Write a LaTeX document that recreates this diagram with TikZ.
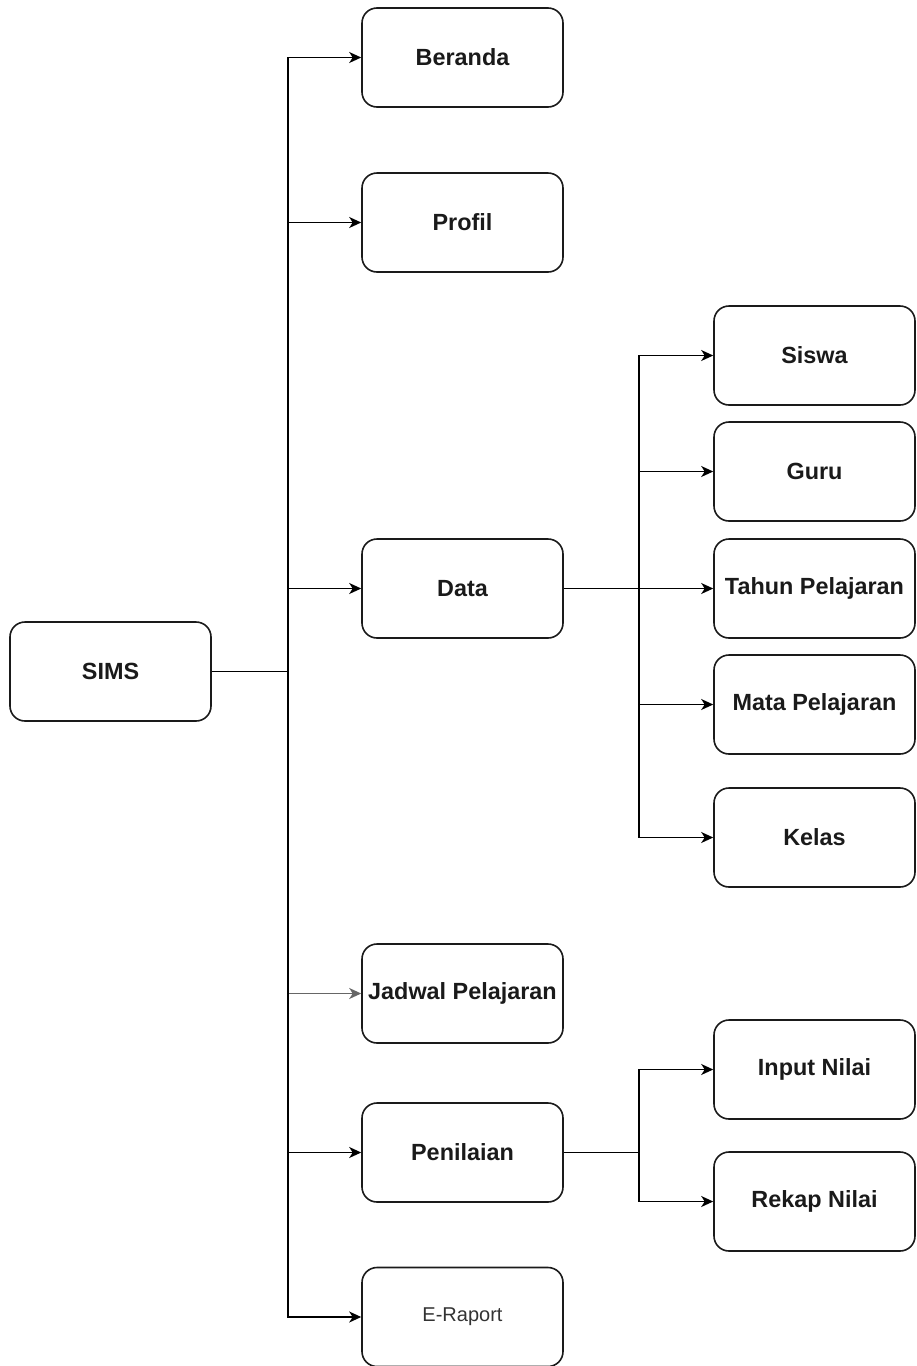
\documentclass[tikz,border=0pt]{standalone}
\usepackage{fontspec}
\setmainfont{Liberation Sans}
\usetikzlibrary{arrows.meta}
\definecolor{ink}{HTML}{1A1A1A}
\definecolor{line}{HTML}{000000}
\definecolor{softline}{HTML}{666666}
\definecolor{faint}{HTML}{333333}

\begin{document}
\begin{tikzpicture}[
  x=1pt,
  y=-1pt,
  text=ink,
  menu/.style={
    draw=ink,
    line width=1.6pt,
    rounded corners=15pt,
    align=center,
    inner sep=0pt,
    minimum width=201pt,
    minimum height=99pt,
    font=\fontsize{23.4}{28}\selectfont\bfseries
  },
  plain/.style={menu, text=faint, font=\fontsize{20}{24}\selectfont},
  link/.style={-{Stealth[length=12pt,width=11pt,inset=3.5pt]}, line width=1.6pt, draw=line},
  joint/.style={line width=1.6pt, draw=line}
]
\useasboundingbox (0,0) rectangle (917,1366);

% Root and main menu
\node[menu] (sims) at (110.5,671.5) {SIMS};
\node[menu] (beranda) at (462.5,57.5) {Beranda};
\node[menu] (profil) at (462.5,222.5) {Profil};
\node[menu] (data) at (462.5,588.5) {Data};
\node[menu] (jadwal) at (462.5,993.5) {Jadwal Pelajaran};
\node[menu] (penilaian) at (462.5,1152.5) {Penilaian};
\node[plain] (eraport) at (462.5,1317) {E-Raport};

\draw[joint] (sims.east) -- ++(76,0) coordinate (trunk);
\draw[link] (trunk) |- (beranda.west);
\draw[link] (trunk) |- (profil.west);
\draw[link] (trunk) |- (data.west);
\draw[link, draw=softline] (trunk) |- (jadwal.west);
\draw[link] (trunk) |- (penilaian.west);
\draw[link] (trunk) |- (eraport.west);

% Data submenu
\node[menu] (siswa) at (814.5,355.5) {Siswa};
\node[menu] (guru) at (814.5,471.5) {Guru};
\node[menu] (tahun) at (814.5,588.5) {Tahun Pelajaran};
\node[menu] (mapel) at (814.5,704.5) {Mata Pelajaran};
\node[menu] (kelas) at (814.5,837.5) {Kelas};

\draw[joint] (data.east) -- ++(75,0) coordinate (datatrunk);
\foreach \sub in {siswa,guru,tahun,mapel,kelas}
  \draw[link] (datatrunk) |- (\sub.west);

% Penilaian submenu
\node[menu] (input) at (814.5,1069.5) {Input Nilai};
\node[menu] (rekap) at (814.5,1201.5) {Rekap Nilai};

\draw[joint] (penilaian.east) -- ++(75,0) coordinate (nilaitrunk);
\draw[link] (nilaitrunk) |- (input.west);
\draw[link] (nilaitrunk) |- (rekap.west);

\end{tikzpicture}
\end{document}
